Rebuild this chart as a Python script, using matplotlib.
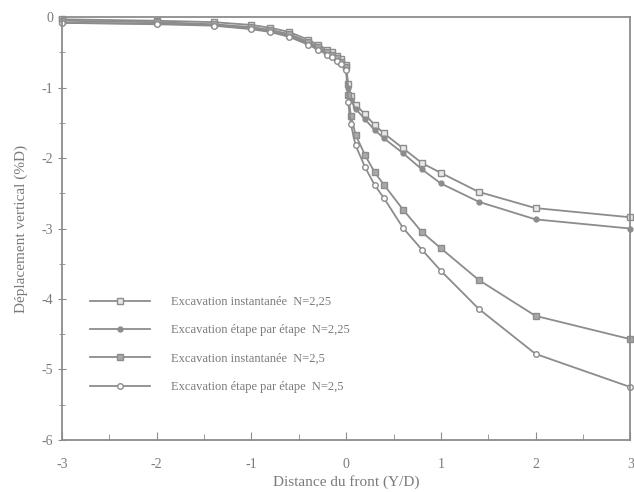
import matplotlib
matplotlib.use('Agg')
import matplotlib.pyplot as plt
from matplotlib.ticker import MultipleLocator

# Distance au front (Y/D) et déplacement vertical (%D)
distance = [-3, -2, -1.4, -1, -0.8, -0.6, -0.4, -0.3, -0.2, -0.15, -0.1, -0.05, 0,
            0.02, 0.05, 0.1, 0.2, 0.3, 0.4, 0.6, 0.8, 1, 1.4, 2, 3]

inst_225 = [-0.03, -0.05, -0.07, -0.11, -0.15, -0.21, -0.32, -0.39, -0.46, -0.5, -0.55, -0.6, -0.68,
            -0.95, -1.12, -1.24, -1.38, -1.53, -1.65, -1.86, -2.07, -2.21, -2.48, -2.71, -2.84]
etape_225 = [-0.08, -0.09, -0.11, -0.16, -0.2, -0.26, -0.37, -0.44, -0.51, -0.55, -0.6, -0.65, -0.72,
             -1.0, -1.18, -1.3, -1.45, -1.6, -1.72, -1.93, -2.16, -2.36, -2.62, -2.87, -3.0]
inst_25 = [-0.05, -0.07, -0.1, -0.14, -0.18, -0.24, -0.35, -0.42, -0.49, -0.53, -0.58, -0.63, -0.7,
           -1.1, -1.4, -1.67, -1.96, -2.2, -2.38, -2.73, -3.05, -3.28, -3.73, -4.24, -4.57]
etape_25 = [-0.08, -0.1, -0.12, -0.17, -0.21, -0.28, -0.39, -0.46, -0.53, -0.57, -0.62, -0.67, -0.75,
            -1.2, -1.52, -1.82, -2.13, -2.38, -2.57, -2.99, -3.3, -3.6, -4.14, -4.78, -5.25]

labels = ['Excavation instantanée  N=2,25',
          'Excavation étape par étape  N=2,25',
          'Excavation instantanée  N=2,5',
          'Excavation étape par étape  N=2,5']

gray = '#8c8c8c'
text_gray = '#7a7a7a'

plt.rcParams['font.family'] = ['Liberation Serif', 'DejaVu Serif']

fig = plt.figure(figsize=(6.34, 4.92), dpi=100)
ax = fig.add_axes([0.098, 0.106, 0.896, 0.859])

styles = [
    dict(marker='s', markersize=5, markerfacecolor='#e8e8e8', markeredgecolor=gray),
    dict(marker='o', markersize=3.5, markerfacecolor=gray, markeredgecolor=gray),
    dict(marker='s', markersize=5, markerfacecolor='#a8a8a8', markeredgecolor=gray),
    dict(marker='o', markersize=4, markerfacecolor='white', markeredgecolor=gray),
]
for series, label, st in zip([inst_225, etape_225, inst_25, etape_25], labels, styles):
    ax.plot(distance, series, color=gray, linewidth=1.3, markeredgewidth=1.0,
            label=label, clip_on=False, **st)

ax.set_xlim(-3, 3)
ax.set_ylim(-6, 0)
ax.xaxis.set_major_locator(MultipleLocator(1))
ax.xaxis.set_minor_locator(MultipleLocator(0.5))
ax.yaxis.set_major_locator(MultipleLocator(1))
ax.yaxis.set_minor_locator(MultipleLocator(0.5))
ax.tick_params(axis='x', which='both', direction='in', colors=gray, labelcolor=text_gray,
               labelsize=10, pad=13)
ax.tick_params(axis='y', which='both', direction='inout', colors=gray, labelcolor=text_gray,
               labelsize=10)
ax.tick_params(which='major', length=6)
ax.tick_params(which='minor', length=4)
ax.xaxis.set_major_formatter(lambda v, p: f'{v:g}')
ax.yaxis.set_major_formatter(lambda v, p: f'{v:g}')
for sp in ax.spines.values():
    sp.set_color(gray)
    sp.set_linewidth(1.3)

ax.set_xlabel('Distance du front (Y/D)', color=text_gray, fontsize=11, labelpad=3)
ax.set_ylabel('Déplacement vertical (%D)', color=text_gray, fontsize=11, labelpad=10)

leg = ax.legend(loc='upper left', bbox_to_anchor=(0.049, 0.34), frameon=False,
                fontsize=9, handlelength=4.8, handletextpad=1.7, labelspacing=1.3,
                borderpad=0, borderaxespad=0)
for t in leg.get_texts():
    t.set_color(text_gray)

fig.savefig('out.png', dpi=100)
